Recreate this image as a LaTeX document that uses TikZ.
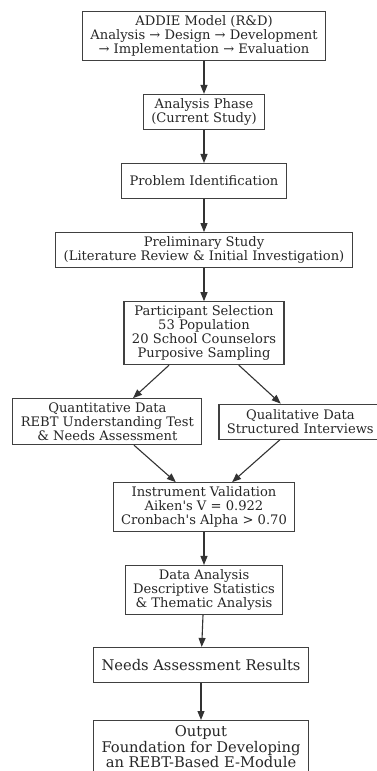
\documentclass[tikz,border=0pt]{standalone}
\usepackage{fontspec}
\setmainfont{DejaVu Serif}
\usepackage{tikz}
\usetikzlibrary{positioning}
\usetikzlibrary{arrows.meta}

\tikzset{
  box/.style={draw=black!75, line width=1.1pt, text=black!85, align=center,
    inner xsep=8pt, inner ysep=4pt, minimum height=35pt,
    font=\fontsize{13.1}{14}\selectfont},
  bigbox/.style={box, inner ysep=5.5pt, font=\fontsize{14.7}{15.5}\selectfont},
  flow/.style={draw=black!80, line width=1.1pt, -{Triangle[length=9pt,width=7pt]}}
}

\begin{document}
\begin{tikzpicture}
      \useasboundingbox (0,0) rectangle (377pt,-771pt);

      \node(addie) [box] at (204pt,-36pt) {ADDIE Model (R\&D)\\Analysis → Design → Development\\→ Implementation → Evaluation};
      \node(phase) [box, below=33pt of addie] {Analysis Phase\\(Current Study)};
      \node(problem) [box, below=33pt of phase] {Problem Identification};
      \node(prelim) [box, below=33pt of problem] {Preliminary Study\\(Literature Review \& Initial Investigation)};
      \node(part) [box, below=33pt of prelim] {Participant Selection\\53 Population\\20 School Counselors\\Purposive Sampling};
      \node(quant) [box, below left=33pt and -79pt of part] {Quantitative Data\\REBT Understanding Test\\\& Needs Assessment};
      \node(qual) [box, right=16pt of quant] {Qualitative Data\\Structured Interviews};
      \node(valid) [box, below=117pt of part] {Instrument Validation\\Aiken\textquotesingle s V = 0.922\\Cronbach\textquotesingle s Alpha > 0.70};
      \node(analysis) [box, below=33pt of valid] {Data Analysis\\Descriptive Statistics\\\& Thematic Analysis};
      \node(needs) [bigbox, below=32pt of analysis, xshift=-3pt] {Needs Assessment Results};
      \node(output) [bigbox, below=37pt of needs] {Output\\Foundation for Developing\\an REBT-Based E-Module};

      \draw[flow](addie) -- (phase);
      \draw[flow](phase) -- (problem);
      \draw[flow](problem) -- (prelim);
      \draw[flow](prelim) -- (part);
      \draw[flow](part) -- (quant);
      \draw[flow](part) -- (qual);
      \draw[flow](quant) -- (valid);
      \draw[flow](qual) -- (valid);
      \draw[flow](valid) -- (analysis);
      \draw[flow](analysis) -- (needs);
      \draw[flow](needs) -- (output);
    \end{tikzpicture}
\end{document}
